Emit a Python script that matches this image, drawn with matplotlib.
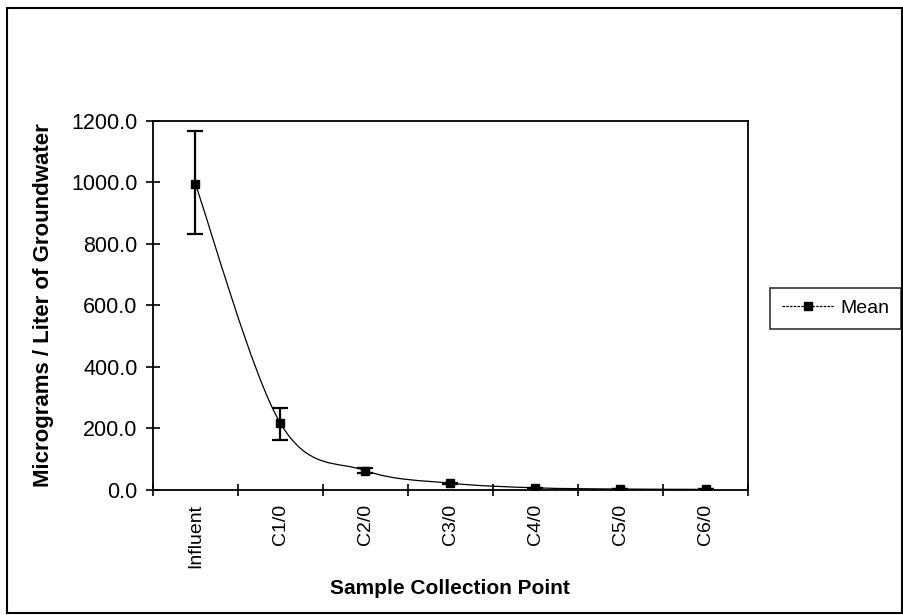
import numpy as np
import matplotlib
matplotlib.use("Agg")
import matplotlib.pyplot as plt
from matplotlib.path import Path
from matplotlib.patches import PathPatch, Rectangle
from matplotlib.lines import Line2D

categories = ["Influent", "C1/0", "C2/0", "C3/0", "C4/0", "C5/0", "C6/0"]
mean = [995, 217, 63, 22, 7, 3, 2]
err_hi = [1167, 267, 73, 24, 8, 3, 2]
err_lo = [832, 162, 54, 20, 6, 3, 2]

plt.rcParams['font.family'] = ['Liberation Sans', 'DejaVu Sans']

fig = plt.figure(figsize=(9.04, 6.15), dpi=100)
ax = fig.add_axes([0.169, 0.2033, 0.6585, 0.6004])

x = np.arange(len(categories))
y = np.asarray(mean, dtype=float)

# smoothed line (Excel-style Catmull-Rom bezier)
pts = np.column_stack([x, y])
ext = np.vstack([pts[0], pts, pts[-1]])
verts = [tuple(pts[0])]
codes = [Path.MOVETO]
for i in range(len(pts) - 1):
    p0, p1, p2, p3 = ext[i], ext[i + 1], ext[i + 2], ext[i + 3]
    c1 = p1 + (p2 - p0) / 6.0
    c2 = p2 - (p3 - p1) / 6.0
    verts += [tuple(c1), tuple(c2), tuple(p2)]
    codes += [Path.CURVE4] * 3
ax.add_patch(PathPatch(Path(verts, codes), facecolor='none', edgecolor='black', lw=0.9))

yerr = [y - np.asarray(err_lo), np.asarray(err_hi) - y]
ax.errorbar(x, y, yerr=yerr, fmt='none', ecolor='black', elinewidth=1.6,
            capsize=5.5, capthick=1.6)
ax.plot(x, y, linestyle='none', marker='s', markersize=5.5, color='black')

ax.set_xlim(-0.5, len(categories) - 0.5)
ax.set_ylim(0, 1200)
ax.set_yticks(np.arange(0, 1201, 200))
ax.set_yticklabels([f"{v:.1f}" for v in np.arange(0, 1201, 200)])
ax.set_xticks(np.arange(-0.5, len(categories), 1.0))
ax.set_xticklabels([])
ax.set_xticks(x, minor=True)
ax.set_xticklabels(categories, minor=True, rotation=90)
ax.tick_params(axis='x', which='major', direction='inout', length=9, width=1.2)
ax.tick_params(axis='x', which='minor', length=0, pad=10, labelsize=14)
ax.tick_params(axis='y', direction='inout', length=10, width=1.2, labelsize=15.5, pad=6)
for s in ax.spines.values():
    s.set_linewidth(1.3)

ax.set_ylabel("Micrograms / Liter of Groundwater", fontsize=16, fontweight='bold', labelpad=12)
ax.set_xlabel("Sample Collection Point", fontsize=15, fontweight='bold', labelpad=8)

h = Line2D([], [], color='black', lw=0.9, linestyle=(0, (2, 1)), marker='s', markersize=6)
leg = fig.legend([h], ["Mean"], loc='center left', bbox_to_anchor=(0.852, 0.499),
                 fontsize=14, frameon=True, fancybox=False, edgecolor='black',
                 handlelength=2.7, borderpad=0.6, handletextpad=0.3, borderaxespad=0)
leg.get_frame().set_linewidth(1.2)

fig.patches.append(Rectangle((0.008, 0.003), 0.99, 0.984, transform=fig.transFigure,
                             fill=False, edgecolor='black', lw=1.5))

fig.savefig("out.png", dpi=100)
